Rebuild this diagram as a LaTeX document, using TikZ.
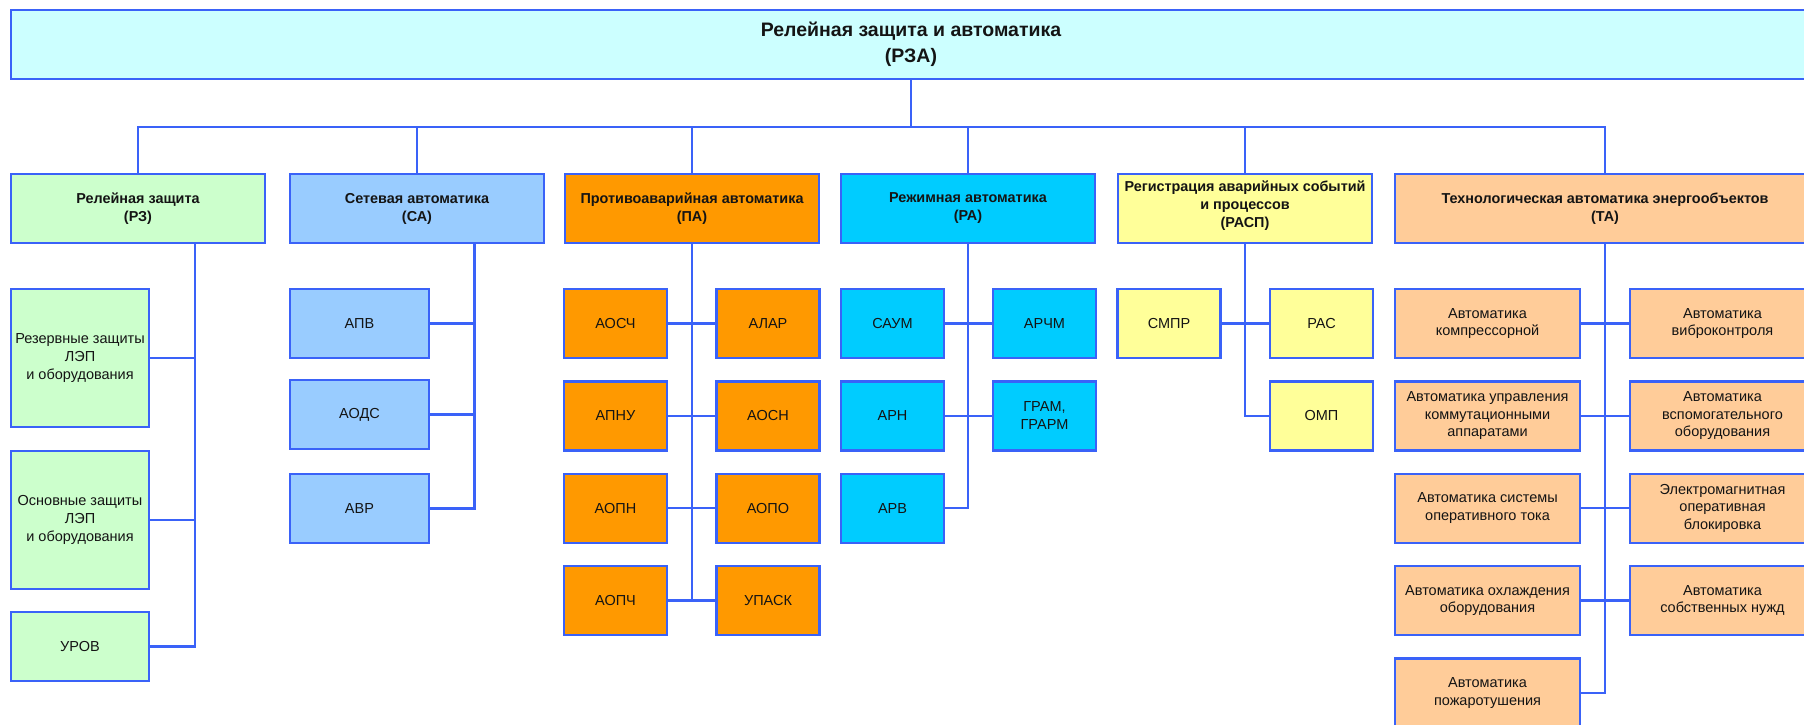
\documentclass[tikz,border=0pt]{standalone}
\usepackage{fontspec}
\setmainfont{Liberation Sans}
\definecolor{lineblue}{RGB}{58,98,248}
\definecolor{txt}{RGB}{20,20,20}
\definecolor{fillTop}{HTML}{CCFFFF}
\definecolor{fillRZ}{HTML}{CCFFCC}
\definecolor{fillCA}{HTML}{99CCFF}
\definecolor{fillPA}{HTML}{FF9900}
\definecolor{fillRA}{HTML}{00CCFF}
\definecolor{fillRASP}{HTML}{FFFF99}
\definecolor{fillTA}{HTML}{FFCC99}
\begin{document}
\begin{tikzpicture}[x=1pt,y=-1pt,
  box/.style={draw=lineblue, line width=2.4pt, inner sep=0pt, align=center,
    text=txt, font=\fontsize{14.5}{17.7}\selectfont},
  head/.style={box, minimum width=254pt, minimum height=69pt,
    font=\fontsize{14.4}{18}\selectfont\bfseries},
  titlebox/.style={box, font=\fontsize{19.5}{26}\selectfont\bfseries},
  leaf/.style={box, minimum height=69pt},
  narrow/.style={leaf, minimum width=103pt},
  wide/.style={leaf, minimum width=185pt},
  link/.style={draw=lineblue, line width=2.4pt}]

\useasboundingbox (0,0) rectangle (1804,724);
\fill[white] (0,0) rectangle (1804,724);
\clip (0,0) rectangle (1804,724);

% top level
\node[titlebox, fill=fillTop, minimum width=1800pt, minimum height=69pt] (top) at (911,44.5)
  {Релейная защита и автоматика\\(РЗА)};

% first level
\node[head, fill=fillRZ]   (rz)   at (138,208.5)  {Релейная защита\\(РЗ)};
\node[head, fill=fillCA]   (ca)   at (417,208.5)  {Сетевая автоматика\\(СА)};
\node[head, fill=fillPA]   (pa)   at (692,208.5)  {Противоаварийная автоматика\\(ПА)};
\node[head, fill=fillRA]   (ra)   at (968,208.5)  {Режимная автоматика\\(РА)};
\node[head, fill=fillRASP, minimum height=69pt] (rasp) at (1245,208.5) {};
\node[font=\fontsize{14.4}{18}\selectfont\bfseries, text=txt, align=center, inner sep=0pt] (rasplabel) at (1245,205.5)
  {Регистрация аварийных событий\\и процессов\\(РАСП)};
\node[head, fill=fillTA, minimum width=420pt] (ta) at (1605,208.5)
  {Технологическая автоматика энергообъектов\\(ТА)};

% bus
\coordinate (bus) at (0,127);
\draw[link] (top.south) -- (top.south |- bus);
\draw[link] (rz.north) -- (rz.north |- bus) -- (ta.north |- bus) -- (ta.north);
\foreach \n in {ca,pa,ra,rasp} \draw[link] (\n.north) -- (\n.north |- bus);

% relay protection
\node[box, fill=fillRZ, minimum width=138pt, minimum height=138pt] (rz1) at (80,358)
  {Резервные защиты\\ЛЭП\\и оборудования};
\node[box, fill=fillRZ, minimum width=138pt, minimum height=138pt] (rz2) at (80,520)
  {Основные защиты\\ЛЭП\\и оборудования};
\node[leaf, fill=fillRZ, minimum width=138pt] (rz3) at (80,646.5) {УРОВ};
\coordinate (rzsp) at (195,0);
\draw[link] (rz.south -| rzsp) |- (rz3.east);
\draw[link] (rz1.east) -- (rz1.east -| rzsp);
\draw[link] (rz2.east) -- (rz2.east -| rzsp);

% network automation
\node[leaf, fill=fillCA, minimum width=139pt] (ca1) at (359.5,323.5) {АПВ};
\node[leaf, fill=fillCA, minimum width=139pt] (ca2) at (359.5,414.5) {АОДС};
\node[leaf, fill=fillCA, minimum width=139pt] (ca3) at (359.5,508.5) {АВР};
\coordinate (casp) at (474.5,0);
\draw[link] (ca.south -| casp) |- (ca3.east);
\draw[link] (ca1.east) -- (ca1.east -| casp);
\draw[link] (ca2.east) -- (ca2.east -| casp);

% emergency control
\node[narrow, fill=fillPA] (pa1) at (615.5,323.5) {АОСЧ};
\node[narrow, fill=fillPA] (pa2) at (768,323.5)   {АЛАР};
\node[narrow, fill=fillPA] (pa3) at (615.5,415.8) {АПНУ};
\node[narrow, fill=fillPA] (pa4) at (768,415.8)   {АОСН};
\node[narrow, fill=fillPA] (pa5) at (615.5,508.2) {АОПН};
\node[narrow, fill=fillPA] (pa6) at (768,508.2)   {АОПО};
\node[narrow, fill=fillPA] (pa7) at (615.5,600.5) {АОПЧ};
\node[narrow, fill=fillPA] (pa8) at (768,600.5)   {УПАСК};
\draw[link] (pa.south) -- (pa.south |- pa7.east);
\draw[link] (pa1.east) -- (pa2.west);
\draw[link] (pa3.east) -- (pa4.west);
\draw[link] (pa5.east) -- (pa6.west);
\draw[link] (pa7.east) -- (pa8.west);

% regime automation
\node[narrow, fill=fillRA] (ra1) at (892.5,323.5)  {САУМ};
\node[narrow, fill=fillRA] (ra2) at (1044.5,323.5) {АРЧМ};
\node[narrow, fill=fillRA] (ra3) at (892.5,415.8)  {АРН};
\node[narrow, fill=fillRA] (ra4) at (1044.5,415.8) {ГРАМ,\\ГРАРМ};
\node[narrow, fill=fillRA] (ra5) at (892.5,508.2)  {АРВ};
\draw[link] (ra.south) |- (ra5.east);
\draw[link] (ra1.east) -- (ra2.west);
\draw[link] (ra3.east) -- (ra4.west);

% event recording
\node[narrow, fill=fillRASP] (rs1) at (1169,323.5)   {СМПР};
\node[narrow, fill=fillRASP] (rs2) at (1321.5,323.5) {РАС};
\node[narrow, fill=fillRASP] (rs3) at (1321.5,415.8) {ОМП};
\draw[link] (rasp.south) |- (rs3.west);
\draw[link] (rs1.east) -- (rs2.west);

% technological automation
\node[wide, fill=fillTA] (ta1) at (1487.5,323.5) {Автоматика\\компрессорной};
\node[wide, fill=fillTA] (ta2) at (1722.5,323.5) {Автоматика\\виброконтроля};
\node[wide, fill=fillTA] (ta3) at (1487.5,415.8) {Автоматика управления\\коммутационными\\аппаратами};
\node[wide, fill=fillTA] (ta4) at (1722.5,415.8) {Автоматика\\вспомогательного\\оборудования};
\node[wide, fill=fillTA] (ta5) at (1487.5,508.2) {Автоматика системы\\оперативного тока};
\node[wide, fill=fillTA] (ta6) at (1722.5,508.2) {Электромагнитная\\оперативная\\блокировка};
\node[wide, fill=fillTA] (ta7) at (1487.5,600.5) {Автоматика охлаждения\\оборудования};
\node[wide, fill=fillTA] (ta8) at (1722.5,600.5) {Автоматика\\собственных нужд};
\node[wide, fill=fillTA] (ta9) at (1487.5,692.8) {Автоматика\\пожаротушения};
\draw[link] (ta.south) |- (ta9.east);
\draw[link] (ta1.east) -- (ta2.west);
\draw[link] (ta3.east) -- (ta4.west);
\draw[link] (ta5.east) -- (ta6.west);
\draw[link] (ta7.east) -- (ta8.west);
\end{tikzpicture}
\end{document}
